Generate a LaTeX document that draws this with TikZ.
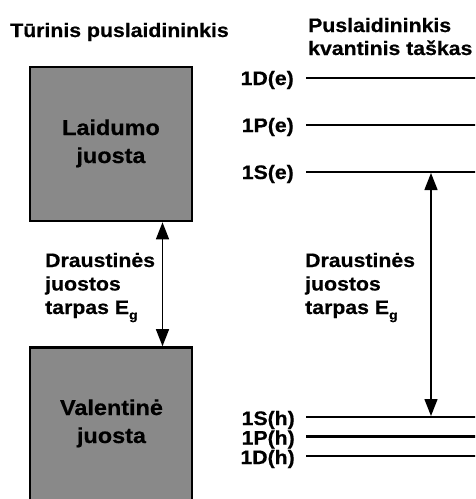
\documentclass[tikz,border=0pt]{standalone}
\usepackage{fontspec}
\setmainfont{Liberation Sans}[FakeStretch=1.09, BoldFeatures={FakeBold=0.6}]
\usetikzlibrary{arrows.meta}
\definecolor{bandgray}{RGB}{137,137,137}
\newcommand{\Egap}{E\raisebox{-0.28em}{\fontsize{13}{13}\selectfont g}}
\begin{document}
\begin{tikzpicture}[x=1pt,y=-1pt,
  txt/.style={inner sep=0pt, font=\fontsize{19.5}{22}\selectfont\bfseries, text=black},
  bigtxt/.style={txt, font=\fontsize{21.5}{24}\selectfont\bfseries},
  band/.style={draw=black, line width=2.6pt, fill=bandgray, inner sep=0pt},
  level/.style={line width=2.7pt},
  gaparrow/.style={line width=1.4pt, {Triangle[length=17pt,width=13pt]}-{Triangle[length=17pt,width=13pt]}}
]
\useasboundingbox (0,0) rectangle (475,499);
\begin{scope}
\clip (0,0) rectangle (475,499);
% bands
\node[band, minimum width=162pt, minimum height=154pt] (cb) at (111,144) {};
\node[band, minimum width=162pt, minimum height=163pt] (vb) at (111,429) {};
% level lines
\coordinate (De0) at (306,78);  \coordinate (De1) at (477,78);
\coordinate (Pe0) at (306,125); \coordinate (Pe1) at (477,125);
\coordinate (Se0) at (306,172); \coordinate (Se1) at (477,172);
\coordinate (Sh0) at (306,417); \coordinate (Sh1) at (477,417);
\coordinate (Ph0) at (306,436.5); \coordinate (Ph1) at (477,436.5);
\coordinate (Dh0) at (306,456); \coordinate (Dh1) at (477,456);
\draw[level] (De0) -- (De1);
\draw[level] (Pe0) -- (Pe1);
\draw[level] (Se0) -- (Se1);
\draw[level] (Sh0) -- (Sh1);
\draw[level] (Ph0) -- (Ph1);
\draw[level] (Dh0) -- (Dh1);
\end{scope}
% titles
\node[txt, anchor=base] (t1) at (119.5,37) {Tūrinis puslaidininkis};
\node[txt, anchor=base west] (t2a) at (308,32) {Puslaidininkis};
\node[txt, anchor=base west] (t2b) at (308,55) {kvantinis taškas};
% band labels
\node[bigtxt, anchor=base] (cb1) at (111,135) {Laidumo};
\node[bigtxt, anchor=base] (cb2) at (111,163) {juosta};
\node[bigtxt, anchor=base] (vb1) at (111.5,415) {Valentinė};
\node[bigtxt, anchor=base] (vb2) at (111.5,443) {juosta};
% gap labels
\node[txt, anchor=base west] (lg1) at (45,267) {Draustinės};
\node[txt, anchor=base west] (lg2) at (45,290.5) {juostos};
\node[txt, anchor=base west] (lg3) at (45,314) {tarpas \Egap};
\node[txt, anchor=base west] (rg1) at (305,267) {Draustinės};
\node[txt, anchor=base west] (rg2) at (305,290.5) {juostos};
\node[txt, anchor=base west] (rg3) at (305,314) {tarpas \Egap};
% level labels
\node[txt, anchor=base east] (lDe) at (294,85) {1D(e)};
\node[txt, anchor=base east] (lPe) at (294,132) {1P(e)};
\node[txt, anchor=base east] (lSe) at (294,179) {1S(e)};
\node[txt, anchor=base east] (lSh) at (295,425) {1S(h)};
\node[txt, anchor=base east] (lPh) at (295,444.5) {1P(h)};
\node[txt, anchor=base east] (lDh) at (295,464) {1D(h)};
% gap arrows
\coordinate (lgx) at (162.5,0);
\coordinate (rgx) at (431,0);
\draw[gaparrow] (cb.south -| lgx) -- (vb.north -| lgx);
\draw[gaparrow, shorten <=1pt, shorten >=1pt] (Se0 -| rgx) -- (Sh0 -| rgx);
\end{tikzpicture}
\end{document}
